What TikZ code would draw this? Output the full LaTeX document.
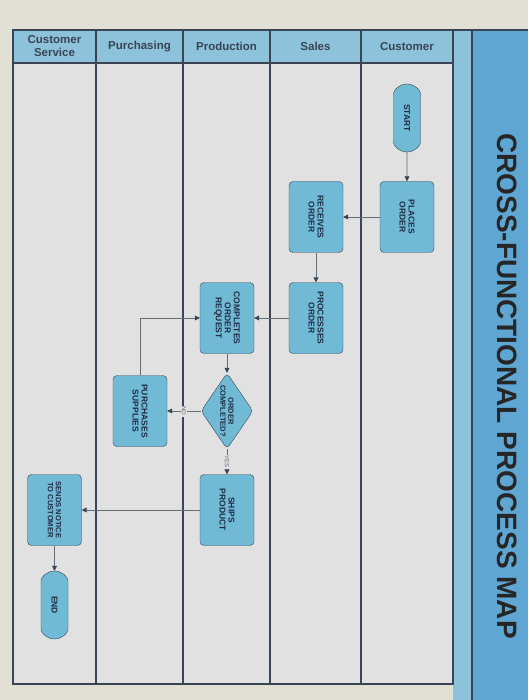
\documentclass[tikz,border=0pt]{standalone}
\usepackage{fontspec}
\setmainfont{Liberation Sans}
\usetikzlibrary{arrows.meta,shapes.geometric,shapes.misc}
\definecolor{paper}{RGB}{226,223,212}
\definecolor{lanegray}{RGB}{224,225,224}
\definecolor{headblue}{RGB}{140,194,218}
\definecolor{titleblue}{RGB}{96,166,210}
\definecolor{boxblue}{RGB}{112,186,214}
\definecolor{edgegray}{RGB}{58,68,84}
\definecolor{inkblue}{RGB}{32,44,66}
\definecolor{linegray}{RGB}{100,108,118}

\begin{document}
\begin{tikzpicture}[x=1pt,y=-1pt,
		lane/.style={draw=edgegray,line width=1.2pt},
		stepbox/.style={draw=edgegray,fill=boxblue,rounded corners=4pt,rotate=-90,
			minimum width=71pt,minimum height=54pt,inner sep=1pt,align=center,
			text=inkblue,font=\fontsize{8.5}{9}\selectfont\bfseries},
		terminal/.style={stepbox,rounded rectangle,minimum width=70pt,minimum height=27pt},
		decision/.style={stepbox,diamond,shape aspect=1.5,minimum width=76pt,
			minimum height=52pt,inner sep=0pt,font=\fontsize{7.5}{8}\selectfont\bfseries},
		flow/.style={draw=linegray,line width=0.7pt,-{Triangle[length=5pt,width=5pt,color=edgegray]}},
		edgelabel/.style={fill=lanegray,rotate=-90,inner sep=1pt,text=linegray,
			font=\fontsize{6}{6}\selectfont}]
		\useasboundingbox (0,0) rectangle (528,700);
		% Draw background, lanes and title strip
		\fill[paper] (0,0) rectangle (528,700);
		\fill[lanegray] (13,63) rectangle (453,684);
		\fill[headblue] (13,30) rectangle (453,63);
		\fill[headblue] (453,30) rectangle (472,700);
		\fill[titleblue] (472,30) rectangle (528,700);
		\draw[lane] (13,30) rectangle (453,684);
		\draw[lane] (13,63) -- (453,63);
		\draw[lane] (453,30) -- (528,30);
		\draw[lane] (472,30) -- (472,700);
		\foreach \x in {96,183,270,361}
		{\draw[lane] (\x,30) -- (\x,684);}
		% Lane headers
		\foreach \x/\lanename in {54.5/{Customer\\Service},139.5/Purchasing,
			226.5/Production,315.5/Sales,407/Customer}
		{\node[align=center,text=edgegray,font=\fontsize{11.5}{13}\selectfont\bfseries] at (\x,46.5) {\lanename};}
		\node[rotate=-90,text=black!85,font=\fontsize{28}{28}\selectfont\bfseries] (title) at (507,386)
		{CROSS-FUNCTIONAL PROCESS MAP};
		% Draw process steps
		\node[terminal] (start) at (407,118) {START};
		\node[stepbox] (places) at (407,217) {PLACES\\ORDER};
		\node[stepbox] (receives) at (316,217) {RECEIVES\\ORDER};
		\node[stepbox] (processes) at (316,318) {PROCESSES\\ORDER};
		\node[stepbox] (completes) at (227,318) {COMPLETES\\ORDER\\REQUEST};
		\node[decision] (done) at (227,411) {ORDER\\COMPLETED?};
		\node[stepbox] (purchases) at (140,411) {PURCHASES\\SUPPLIES};
		\node[stepbox] (ships) at (227,510) {SHIPS\\PRODUCT};
		\node[stepbox,font=\fontsize{7.5}{8}\selectfont\bfseries] (notice) at (54.5,510) {SENDS NOTICE\\TO CUSTOMER};
		\node[terminal] (end) at (54.5,605) {END};
		% Draw connectors
		\draw[flow] (start) -- (places);
		\draw[flow] (places) -- (receives);
		\draw[flow] (receives) -- (processes);
		\draw[flow] (processes) -- (completes);
		\draw[flow] (completes) -- (done);
		\draw[flow] (done) -- node[edgelabel] {NO} (purchases);
		\draw[flow] (purchases) |- (completes);
		\draw[flow] (done) -- node[edgelabel] {YES} (ships);
		\draw[flow] (ships) -- (notice);
		\draw[flow] (notice) -- (end);
	\end{tikzpicture}
\end{document}
